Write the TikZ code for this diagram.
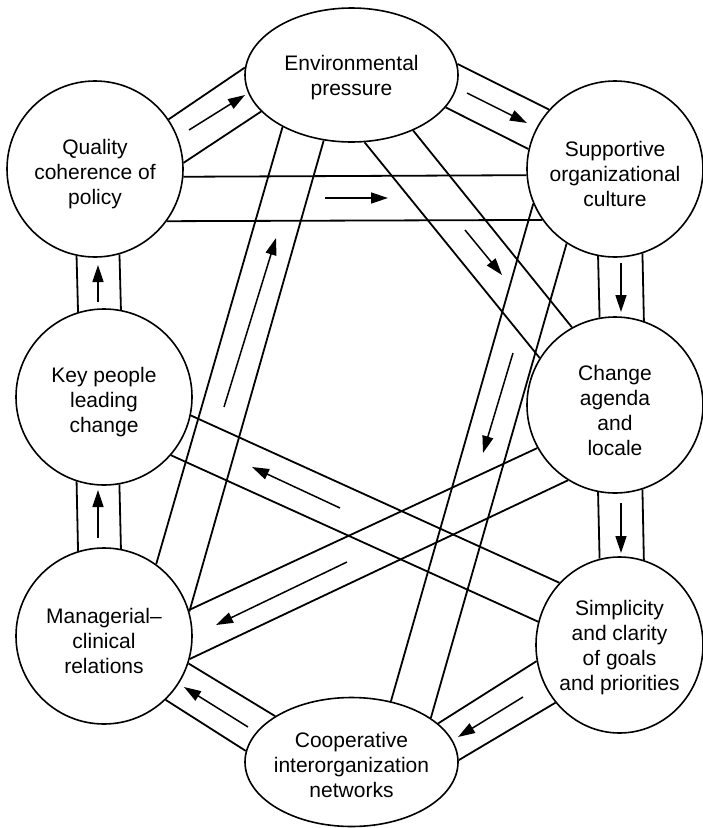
\documentclass[tikz,border=0pt]{standalone}
\usepackage{fontspec}
\setmainfont{Liberation Sans}
\usetikzlibrary{arrows.meta,shapes.geometric}
\begin{document}
\begin{tikzpicture}[x=1pt,y=-1pt,
  txt/.style={align=center,font=\fontsize{21}{25}\selectfont,inner sep=0pt},
  circ/.style={draw,circle,line width=1.6pt,minimum size=176pt,inner sep=0pt,
    label={[txt,yshift=-5pt]center:{#1}}},
  ell/.style={draw,ellipse,line width=1.6pt,inner sep=0pt,
    label={[txt,yshift=-3pt]center:{#1}}},
  band/.style={line width=1.8pt},
  arr/.style={line width=1.5pt,-{Triangle[length=17pt,width=11pt]}}]
\useasboundingbox (0,0) rectangle (703,828);
% nodes
\node[circ={Quality\\coherence of\\policy}] (Q) at (95,169) {};
\node[ell={Environmental\\pressure},minimum width=213pt,minimum height=134pt] (E) at (351.5,75) {};
\node[circ={Supportive\\organizational\\culture}] (S) at (615,169) {};
\node[circ={Change\\agenda\\and\\locale}] (C) at (615,405) {};
\node[ell={Simplicity\\and clarity\\of goals\\and priorities},minimum width=167pt,minimum height=176pt] (Sim) at (619.5,645) {};
\node[ell={Cooperative\\interorganization\\networks},minimum width=213pt,minimum height=129pt] (Co) at (351.5,762) {};
\node[circ={Managerial–\\clinical\\relations}] (M) at (104,636) {};
\node[circ={Key people\\leading\\change}] (K) at (104,397) {};
% bands
\draw[band] (Q.34.9) -- (E.176.7);  \draw[band] (Q.4.5) -- (E.202.2);
\draw[arr] (189,130) -- (245,95);
\draw[band] (E.6.5) -- (S.138.2);   \draw[band] (E.341.5) -- (S.167.1);
\draw[arr] (467,93) -- (527,123);
\draw[band] (Q.355.4) -- (S.184.6); \draw[band] (Q.324.6) -- (S.215.4);
\draw[arr] (325,198) -- (388,198);
\draw[band] (E.281.7) -- (C.148.5); \draw[band] (E.318.2) -- (C.119.2);
\draw[arr] (465,230) -- (502,275);
\draw[band] (S.259.5) -- (C.100.5); \draw[band] (S.288.6) -- (C.71.45);
\draw[arr] (621,263) -- (621,312);
\draw[band] (C.259.5) -- (Sim.103.5); \draw[band] (C.288.6) -- (Sim.74.4);
\draw[arr] (621,503) -- (621,553);
\draw[band] (Sim.191.8) -- (Co.24.5); \draw[band] (Sim.222.4) -- (Co.1);
\draw[arr] (523,697) -- (458,737);
\draw[band] (Co.149.2) -- (M.342.4); \draw[band] (Co.174.5) -- (M.314.6);
\draw[arr] (248,727) -- (184,687);
\draw[band] (M.107.9) -- (K.252.1); \draw[band] (M.79.5) -- (K.280.5);
\draw[arr] (98,538) -- (98,490);
\draw[band] (K.107.9) -- (Q.258.2); \draw[band] (K.79.5) -- (Q.286.5);
\draw[arr] (98,302) -- (98,265);
\draw[band] (M.54) -- (E.217.7);    \draw[band] (M.16.8) -- (E.247.8);
\draw[arr] (224,407) -- (276,238);
\draw[band] (S.203.1) -- (Co.57.3); \draw[band] (S.237.2) -- (Co.29.3);
\draw[arr] (513,353) -- (483,453);
\draw[band] (Sim.134.8) -- (K.348.4); \draw[band] (Sim.164.2) -- (K.319.5);
\draw[arr] (340,508) -- (252,467);
\draw[band] (C.209.4) -- (M.17);    \draw[band] (C.238.6) -- (M.345.4);
\draw[arr] (347,562) -- (216,625);
\end{tikzpicture}
\end{document}
